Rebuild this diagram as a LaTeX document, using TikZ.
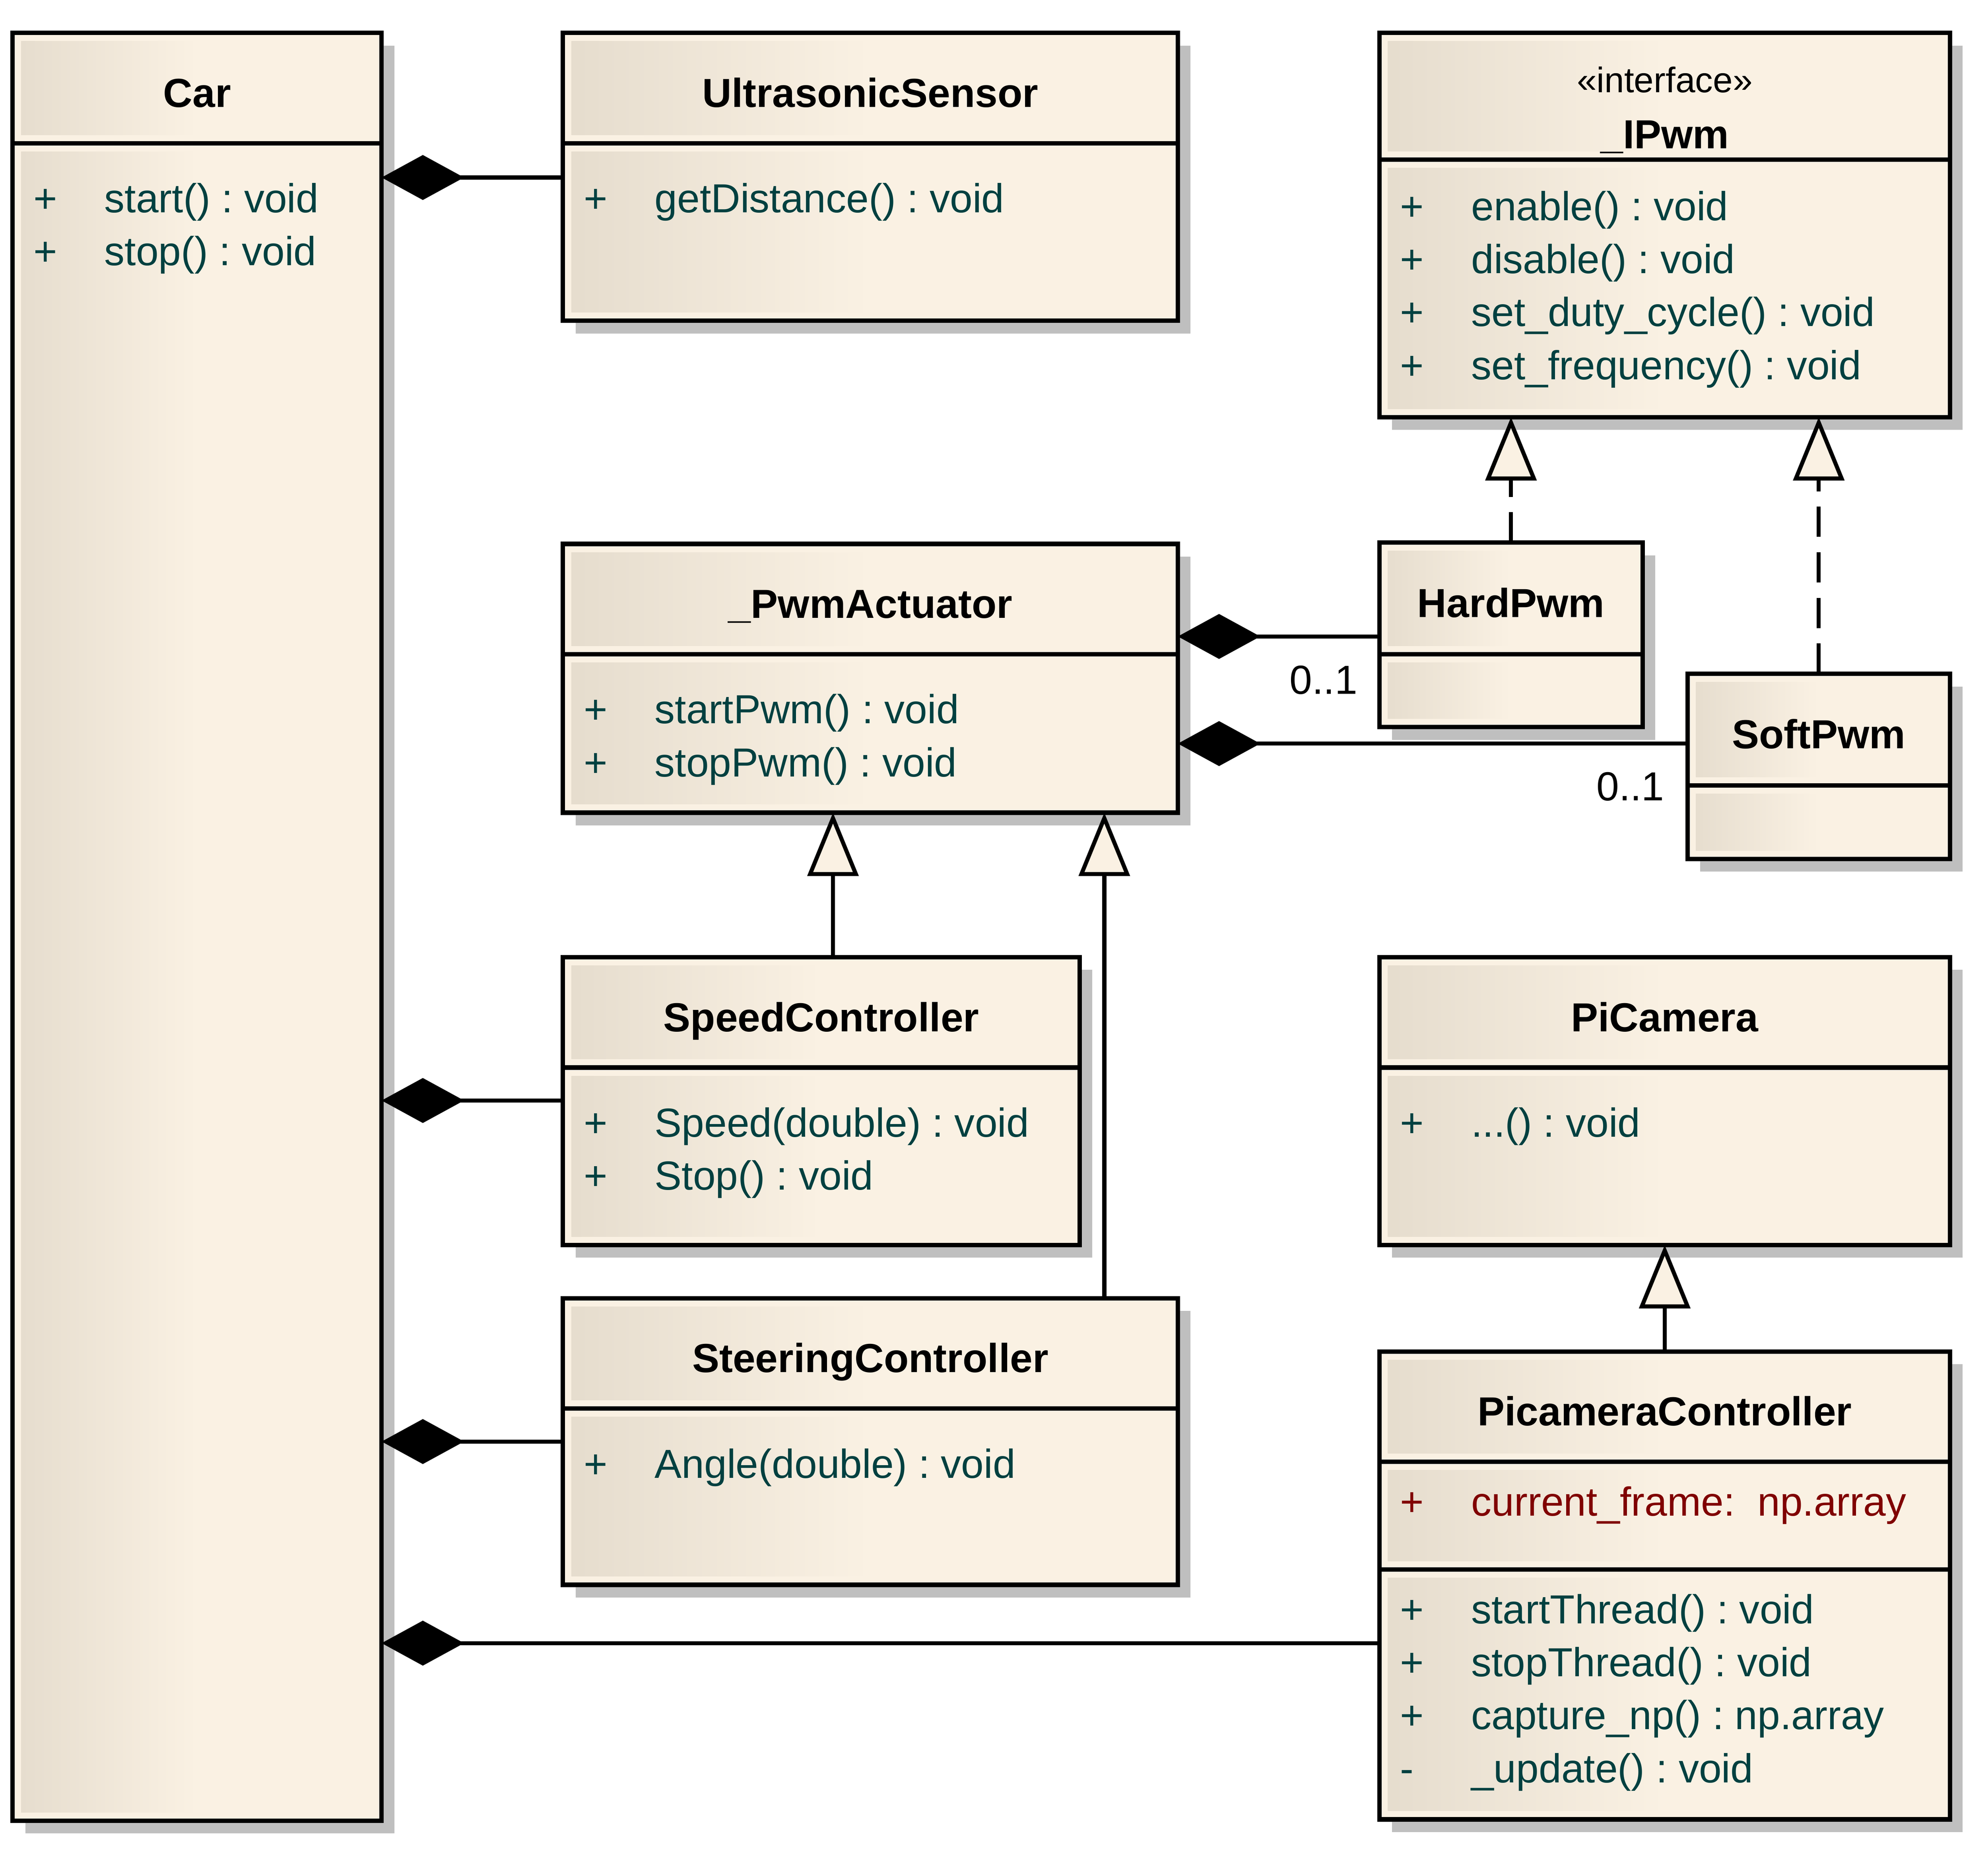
\documentclass[tikz,border=0pt]{standalone}
\usepackage{fontspec}
\setmainfont{Liberation Sans}
\usetikzlibrary{positioning,arrows.meta,shadows}

\definecolor{umlL}{RGB}{229,220,205}
\definecolor{umlR}{RGB}{250,241,227}
\definecolor{umlshadow}{RGB}{191,191,191}
\definecolor{umlop}{RGB}{0,64,64}
\definecolor{umlattr}{RGB}{128,0,0}

\newcommand{\vis}[1]{\strut\makebox[28pt][l]{#1}}

\tikzset{
  part/.style={draw, line width=1.75pt, fill=umlR, outer sep=0pt, inner sep=0pt,
    general shadow={fill=umlshadow, shadow xshift=5pt, shadow yshift=-5pt},
    path picture={\shade[left color=umlL, right color=umlR, middle color=umlR]
      ([shift={(3.3pt,-3.3pt)}]path picture bounding box.north west) rectangle
      ([shift={(-3.3pt,3.3pt)}]path picture bounding box.south east);}},
  head/.style={part, anchor=north west, minimum height=43.5pt, text height=15pt,
    text depth=0pt, font=\bfseries\fontsize{16}{19}\selectfont},
  ops/.style={anchor=north west, inner sep=0pt, align=left, text=umlop,
    font=\fontsize{16}{20.9}\selectfont},
  mult/.style={inner sep=0pt, text height=11.5pt, text depth=0pt,
    font=\fontsize{16}{19}\selectfont},
  comp/.style={line width=1.6pt, -{Diamond[length=32.5pt, width=17.75pt]}},
  gen/.style={line width=1.6pt, -{Triangle[length=25pt, width=20pt, fill=umlR]}},
  real/.style={gen, dash pattern=on 12pt off 6pt}
}

\begin{document}
\frenchspacing
\begin{tikzpicture}[x=0.5pt, y=-0.5pt]
  \useasboundingbox (0,0) rectangle (1568,1460.6);

  % classes
  \node[head, minimum width=145.5pt] (carhead) at (10,26) {Car};
  \node[part, below=0pt of carhead, minimum width=145.5pt, minimum height=661.5pt] (carbody) {};
  \node[ops, below right=12.5pt and 8pt of carbody.north west] (carops)
    {\vis{+}start() : void\\\vis{+}stop() : void};

  \node[head, minimum width=242.5pt] (ushead) at (444,26) {UltrasonicSensor};
  \node[part, below=0pt of ushead, minimum width=242.5pt, minimum height=70pt] (usbody) {};
  \node[ops, below right=12.5pt and 8pt of usbody.north west] (usops)
    {\vis{+}getDistance() : void};

  \node[head, minimum width=225pt, minimum height=50pt, text height=41pt] (ipwmhead) at (1088,26) {\_IPwm};
  \node[anchor=base, inner sep=0pt, font=\fontsize{14}{17}\selectfont] (ipwmtype)
    at ([yshift=-23.5pt]ipwmhead.north) {«interface»};
  \node[part, below=0pt of ipwmhead, minimum width=225pt, minimum height=101.5pt] (ipwmbody) {};
  \node[ops, below right=9.1pt and 8pt of ipwmbody.north west] (ipwmops)
    {\vis{+}enable() : void\\\vis{+}disable() : void\\\vis{+}set\_duty\_cycle() : void\\\vis{+}set\_frequency() : void};

  \node[head, minimum width=242.5pt] (pwmhead) at (444,429) {\_PwmActuator};
  \node[part, below=0pt of pwmhead, minimum width=242.5pt, minimum height=62.5pt] (pwmbody) {};
  \node[ops, below right=12.5pt and 8pt of pwmbody.north west] (pwmops)
    {\vis{+}startPwm() : void\\\vis{+}stopPwm() : void};

  \node[head, minimum width=103.75pt, minimum height=44pt] (hardhead) at (1088,428) {HardPwm};
  \node[part, below=0pt of hardhead, minimum width=103.75pt, minimum height=28.75pt] (hardbody) {};

  \node[head, minimum width=103.5pt, minimum height=44pt] (softhead) at (1331,531.5) {SoftPwm};
  \node[part, below=0pt of softhead, minimum width=103.5pt, minimum height=29pt] (softbody) {};

  \node[head, minimum width=203.75pt] (speedhead) at (444,755) {SpeedController};
  \node[part, below=0pt of speedhead, minimum width=203.75pt, minimum height=70pt] (speedbody) {};
  \node[ops, below right=12.5pt and 8pt of speedbody.north west] (speedops)
    {\vis{+}Speed(double) : void\\\vis{+}Stop() : void};

  \node[head, minimum width=242.5pt] (steerhead) at (444,1024) {SteeringController};
  \node[part, below=0pt of steerhead, minimum width=242.5pt, minimum height=69.5pt] (steerbody) {};
  \node[ops, below right=12.5pt and 8pt of steerbody.north west] (steerops)
    {\vis{+}Angle(double) : void};

  \node[head, minimum width=225pt] (picamhead) at (1088,755) {PiCamera};
  \node[part, below=0pt of picamhead, minimum width=225pt, minimum height=70pt] (picambody) {};
  \node[ops, below right=12.5pt and 8pt of picambody.north west] (picamops)
    {\vis{+}...() : void};

  \node[head, minimum width=225pt] (pchead) at (1088,1066) {PicameraController};
  \node[part, below=0pt of pchead, minimum width=225pt, minimum height=42.5pt] (pcattr) {};
  \node[ops, text=umlattr, below right=6.4pt and 8pt of pcattr.north west] (pcattrs)
    {\vis{+}current\_frame:\ \ np.array};
  \node[part, below=0pt of pcattr, minimum width=225pt, minimum height=98.5pt] (pcbody) {};
  \node[ops, below right=6.4pt and 8pt of pcbody.north west] (pcops)
    {\vis{+}startThread() : void\\\vis{+}stopThread() : void\\\vis{+}capture\_np() : np.array\\\vis{-}\_update() : void};

  % connectors
  \coordinate (usin) at ([yshift=-13.5pt]usbody.north west);
  \coordinate (speedin) at ([yshift=-13pt]speedbody.north west);
  \coordinate (steerin) at ([yshift=-13pt]steerbody.north west);
  \coordinate (pcin) at ([yshift=-29pt]pcbody.north west);
  \coordinate (hardin) at ([yshift=-37pt]hardhead.north west);
  \coordinate (softin) at ([yshift=-27.5pt]softhead.north west);
  \coordinate (speedup) at ([xshift=106.5pt]speedhead.north west);
  \coordinate (steerup) at ([xshift=213.5pt]steerhead.north west);

  \draw[comp] (usin) -- (usin -| carbody.east);
  \draw[comp] (speedin) -- (speedin -| carbody.east);
  \draw[comp] (steerin) -- (steerin -| carbody.east);
  \draw[comp] (pcin) -- (pcin -| carbody.east);
  \draw[comp] (hardin) -- (hardin -| pwmbody.east);
  \draw[comp] (softin) -- (softin -| pwmbody.east);
  \node[mult, below left=11pt and 8.5pt of hardin] (hardmult) {0..1};
  \node[mult, below left=10.75pt and 9pt of softin] (softmult) {0..1};

  \draw[gen] (speedup) -- (speedup |- pwmbody.south);
  \draw[gen] (steerup) -- (steerup |- pwmbody.south);
  \draw[real] (hardhead.north) -- (hardhead.north |- ipwmbody.south);
  \draw[real] (softhead.north) -- (softhead.north |- ipwmbody.south);
  \draw[gen] (pchead.north) -- (pchead.north |- picambody.south);
\end{tikzpicture}
\end{document}
